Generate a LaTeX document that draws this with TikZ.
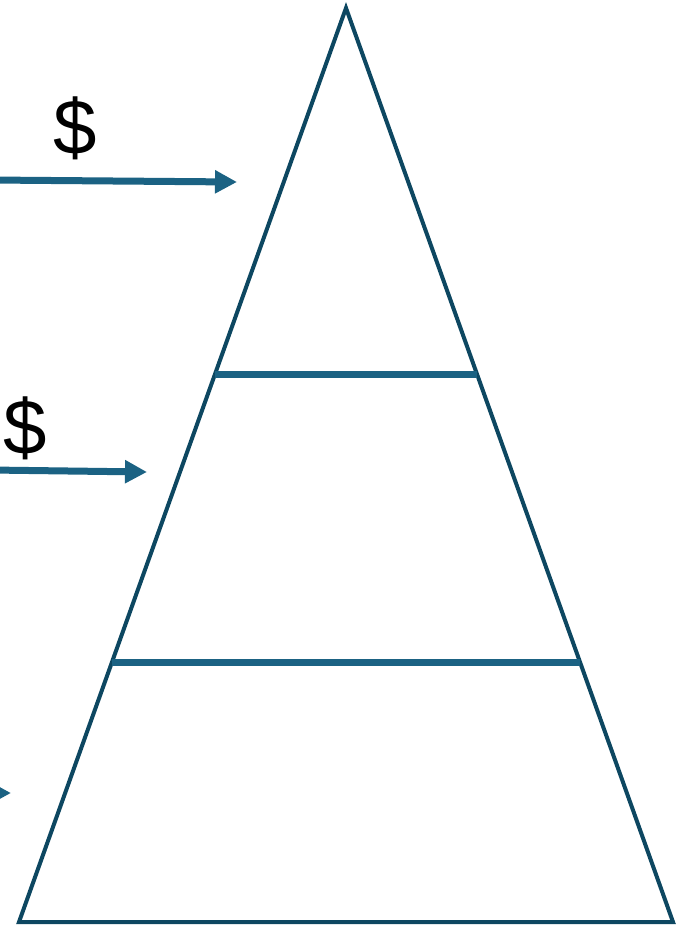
\documentclass[tikz,border=0pt]{standalone}
\usepackage{fontspec}
\setmainfont{Liberation Sans}
\usetikzlibrary{arrows.meta}
\definecolor{edgeblue}{HTML}{0D4761}
\definecolor{flowblue}{HTML}{1B6283}

\begin{document}
\begin{tikzpicture}[
    x=1pt, y=-1pt,
    % Estilos de las lineas
    pyramid/.style={line width=4pt, draw=edgeblue, line join=miter},
    tier/.style={line width=7pt, draw=flowblue},
    flow/.style={line width=7pt, draw=flowblue, -{Triangle[length=22pt, width=22pt]}},
    % Estilo del texto
    money/.style={font=\fontsize{78}{80}\selectfont, text=black, inner sep=0pt}
]
\useasboundingbox (0,0) rectangle (679,927);
\clip (0,0) rectangle (679,927);

% --- PIRAMIDE ---
\coordinate (apex) at (346,8);
\coordinate (baseL) at (19,922);
\coordinate (baseR) at (673,922);
\draw[pyramid] (apex) -- (baseL) -- (baseR) -- cycle;

% --- NIVELES ---
\coordinate (tier1L) at (215,374);
\coordinate (tier1R) at (477,374);
\coordinate (tier2L) at (112,662);
\coordinate (tier2R) at (580,662);
\draw[tier] (tier1L) -- (tier1R);
\draw[tier] (tier2L) -- (tier2R);

% --- FLUJOS ---
\coordinate (in1) at (-10,180);
\coordinate (out1) at (237,182);
\draw[flow] (in1) -- (out1);
\node[money] (cash1) at (75,128) {\$};

\coordinate (in2) at (-10,470);
\coordinate (out2) at (147,472);
\draw[flow] (in2) -- (out2);
\node[money] (cash2) at (25,428) {\$};

\coordinate (in3) at (-60,793);
\coordinate (out3) at (11,793);
\draw[flow] (in3) -- (out3);

\end{tikzpicture}
\end{document}
